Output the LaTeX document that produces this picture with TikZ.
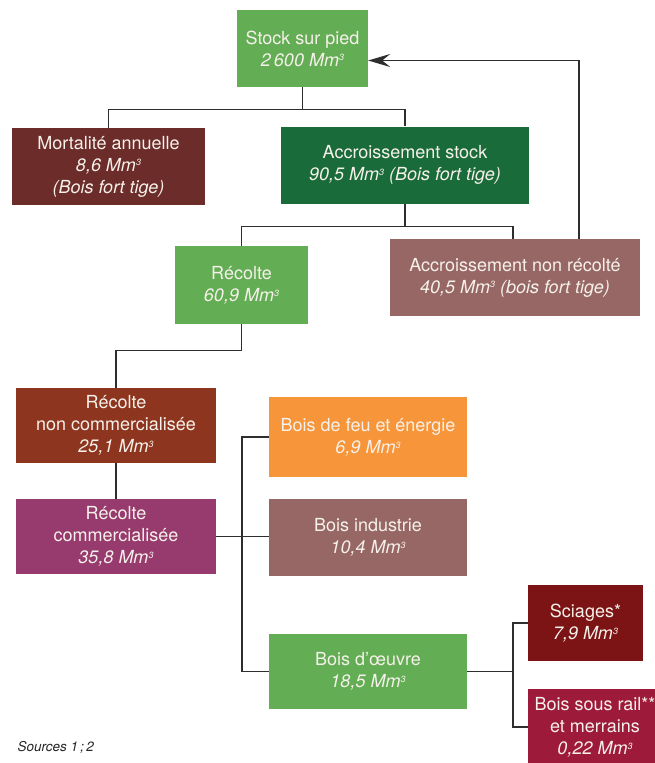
\documentclass[tikz,border=0pt]{standalone}
\usepackage{fontspec}
\setmainfont{TeX Gyre Heros}
\usepackage{tikz}
\usetikzlibrary{positioning,arrows.meta,calc}
\definecolor{lightgreen}{HTML}{63AD55}
\definecolor{darkgreen}{HTML}{1A6B3A}
\definecolor{mortal}{HTML}{6B2C2A}
\definecolor{mauve}{HTML}{976765}
\definecolor{rust}{HTML}{8E3520}
\definecolor{plum}{HTML}{973A6E}
\definecolor{fire}{HTML}{F7953A}
\definecolor{saw}{HTML}{7C1416}
\definecolor{rail}{HTML}{9E1A3A}
\definecolor{boxtext}{HTML}{F6F1EA}
\definecolor{wire}{HTML}{2E2E2E}
\newcommand{\mmc}{Mm\raisebox{0.55ex}{\fontsize{9}{9}\selectfont 3}}

\begin{document}
\begin{tikzpicture}[
  x=1pt, y=1pt,
  every node/.style={font=\fontsize{18}{22}\selectfont},
  box/.style={
    draw=none, text=boxtext, align=center, inner sep=0pt,
    minimum width=198, minimum height=77,
  },
  link/.style={draw=wire, line width=1.4pt},
  flow/.style={draw=wire, line width=1.4pt,
    -{Stealth[length=22pt, width=13pt, inset=8pt]}},
]
  \useasboundingbox (0,0) rectangle (655,-763);

  % Stock and its two branches
  \node[box, fill=lightgreen, minimum width=131] (stock) at (302.5,-48.5)
    {Stock sur pied\\\textit{2\,600 \mmc}};
  \node[box, fill=mortal, minimum width=193] (mort) at (108.5,-166.5)
    {Mortalité annuelle\\\textit{8,6 \mmc}\\\textit{(Bois fort tige)}};
  \node[box, fill=darkgreen, minimum width=248] (acc) at (405,-165)
    {Accroissement stock\\\textit{90,5 \mmc{} (Bois fort tige)}};

  \draw[link] (stock.south) -- ++(0,-22pt) coordinate (j1);
  \draw[link] (mort.north) |- (j1) -| (acc.north);

  % Harvest / not harvested
  \node[box, fill=lightgreen, minimum width=133, minimum height=78] (rec) at (241.5,-285)
    {Récolte\\\textit{60,9 \mmc}};
  \node[box, fill=mauve, minimum width=250] (anr) at (515,-277.5)
    {Accroissement non récolté\\\textit{40,5 \mmc{} (bois fort tige)}};

  \draw[link] (acc.south) -- ++(0,-23pt) coordinate (j2);
  \draw[link] (rec.north) |- (j2) -| ([xshift=-2pt]anr.north);
  \draw[flow] ([xshift=64pt]anr.north) |- ([yshift=-12pt]stock.east);

  % Harvest split
  \node[box, fill=rust, minimum width=200, minimum height=75] (rnc) at (116,-425.5)
    {Récolte\\non commercialisée\\\textit{25,1 \mmc}};
  \node[box, fill=plum, minimum width=200, minimum height=75] (rc) at (116,-536.5)
    {Récolte\\commercialisée\\\textit{35,8 \mmc}};

  \draw[link] (rec.south) -- ++(0,-26pt) coordinate (j3);
  \draw[link] (j3) -| (rnc.north);
  \draw[link] (rnc.south) -- (rc.north);

  % Uses of the sold harvest
  \node[box, fill=fire, minimum height=80] (bdf) at (368,-437)
    {Bois de feu et énergie\\\textit{6,9 \mmc}};
  \node[box, fill=mauve] (bi) at (368,-537.5)
    {Bois industrie\\\textit{10,4 \mmc}};
  \node[box, fill=lightgreen, minimum height=75] (bdo) at (368,-671.5)
    {Bois d’œuvre\\\textit{18,5 \mmc}};

  \draw[link] (bdf.west) -- ++(-27pt,0) |- (bdo.west);
  \draw[link] (rc.east) -- (rc.east -| bi.west);

  % Timber products
  \node[box, fill=saw, minimum width=115, minimum height=76] (sci) at (585.5,-623)
    {Sciages*\\\textit{7,9 \mmc}};
  \node[box, fill=rail, minimum width=134, minimum height=76] (bsr) at (595,-727)
    {Bois sous rail**\\et merrains\\\textit{0,22 \mmc}};

  \draw[link] (bdo.east) -- ++(46pt,0);
  \draw[link] (sci.west) -- ++(-15pt,0) |- (bsr.west);

  \node[anchor=base west, font=\fontsize{13.5}{15}\selectfont\itshape, text=black!85]
    (src) at (14,-751) {Sources 1\,;\,2};
\end{tikzpicture}
\end{document}
